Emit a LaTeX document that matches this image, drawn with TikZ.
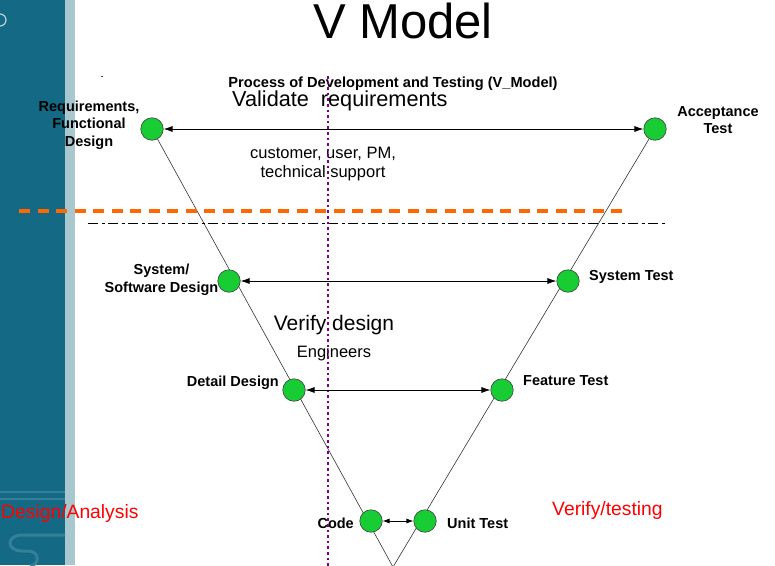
\documentclass[tikz,border=0pt]{standalone}
\usepackage{fontspec}
\setmainfont{Liberation Sans}
\usetikzlibrary{arrows.meta,backgrounds}

\definecolor{bandteal}{RGB}{20,106,132}
\definecolor{bandlight}{RGB}{168,199,207}
\definecolor{bandmark}{RGB}{52,128,152}
\definecolor{vgreen}{RGB}{24,204,52}
\definecolor{dashorange}{RGB}{255,104,0}
\definecolor{dotpurple}{RGB}{120,0,130}
\definecolor{notered}{RGB}{255,0,0}

\begin{document}
\begin{tikzpicture}[>={Latex[length=9pt,width=6pt]}]
  % Styles for the V diagram
  \tikzset{
    vnode/.style   = {circle, draw=black!75, fill=vgreen, line width=0.6pt, minimum size=22.5pt, inner sep=0pt},
    vlabel/.style  = {font=\bfseries\fontsize{14.5}{17.5}\selectfont, inner sep=0pt},
    vleg/.style    = {draw=black!80, line width=0.6pt},
    pairarrow/.style = {<->, line width=0.8pt},
    phase/.style   = {font=\fontsize{21}{24}\selectfont, inner sep=0pt},
    who/.style     = {font=\fontsize{16.5}{19}\selectfont, inner sep=0pt, align=center},
    sidenote/.style = {font=\fontsize{19.3}{22}\selectfont, text=notered, inner sep=0pt}
  }

  % Pixel units, y pointing down
  \begin{scope}[x=1pt,y=-1pt]
    \useasboundingbox (0,0) rectangle (775,565);

    % --- Titles ---
    \node[font=\fontsize{49}{52}\selectfont, anchor=base, inner sep=0pt] (title) at (403,38) {V Model};
    \node[font=\fontsize{9}{10}\selectfont, inner sep=0pt] (tick) at (102,78) {-};
    \node[font=\bfseries\fontsize{14.6}{17}\selectfont, anchor=base, inner sep=0pt] (sub) at (393,87)
      {Process of Development and Testing (V\_Model)};
    \node[phase, font=\fontsize{21.7}{24}\selectfont, anchor=base west] (validate) at (232,106)
      {Validate\hspace{0.55em}requirements};
    \node[who] (customers) at (323,164) {customer, user, PM,\\technical support};
    \node[phase] (verify) at (334,325) {Verify design};
    \node[who] (engineers) at (334,353) {Engineers};

    % --- Nodes of the V ---
    \node[vnode] (req)  at (152,129) {};
    \node[vnode] (acc)  at (655,129) {};
    \node[vnode] (sys)  at (229,281) {};
    \node[vnode] (syst) at (568,281) {};
    \node[vnode] (det)  at (294,390) {};
    \node[vnode] (feat) at (502,390) {};
    \node[vnode] (code) at (371,521) {};
    \node[vnode] (unit) at (425,521) {};
    \coordinate (apex) at (393,567);

    % --- Node labels ---
    \node[vlabel, align=center] (reqlabel)  at (89,125)  {Requirements,\\Functional\\Design};
    \node[vlabel, align=center] (acclabel)  at (718,120) {Acceptance\\Test};
    \node[vlabel, align=center] (syslabel)  at (161.5,280) {System/\\Software Design};
    \node[vlabel, anchor=west]  (systlabel) at (589,277) {System Test};
    \node[vlabel, anchor=east]  (detlabel)  at (279,383) {Detail Design};
    \node[vlabel, anchor=west]  (featlabel) at (523,381) {Feature Test};
    \node[vlabel, anchor=east]  (codelabel) at (354,523) {Code};
    \node[vlabel, anchor=west]  (unitlabel) at (447,523) {Unit Test};

    % --- Side notes ---
    \node[sidenote, anchor=west] (design) at (1,513) {Design/Analysis};
    \node[sidenote, anchor=west] (testing) at (552,510) {Verify/testing};

    % --- Band, legs of the V, dividing lines (behind the nodes) ---
    \begin{pgfonlayer}{background}
      \fill[bandteal] (0,0) rectangle (65,565);
      \fill[bandlight] (65,0) rectangle (75,565);
      \draw[bandmark, line width=1.5pt] (0,492) -- (65,492);
      \draw[bandmark, line width=1.5pt] (0,499) -- (65,499);
      \draw[bandmark, line width=3pt] (65,535) -- (22,535)
        .. controls (6,535) and (6,551) .. (22,551) -- (28,551)
        .. controls (40,551) and (40,565) .. (30,566);
      \draw[white!70!bandteal, line width=1.2pt] (0,26) arc[start angle=90, end angle=-90, radius=6];

      \draw[vleg] (req.center) -- (apex) -- (acc.center);
      \coordinate (orangeL) at (19,211);
      \coordinate (orangeR) at (627,211);
      \draw[dashorange, line width=4.2pt, dash pattern=on 11pt off 7.5pt] (orangeL) -- (orangeR);
      \coordinate (dashL) at (88,223);
      \coordinate (dashR) at (666,223);
      \draw[black, line width=0.8pt, dash pattern=on 10pt off 3.5pt on 3pt off 3.5pt] (dashL) -- (dashR);
    \end{pgfonlayer}

    % --- Purple divider ---
    \coordinate (divtop) at (328,76);
    \coordinate (divbot) at (328,566);
    \draw[dotpurple, line width=2.6pt, dash pattern=on 2.6pt off 3pt] (divtop) -- (divbot);

    % --- Pair arrows ---
    \draw[pairarrow] (req) -- (acc);
    \draw[pairarrow] (sys) -- (syst);
    \draw[pairarrow] (det) -- (feat);
    \draw[pairarrow, >={Latex[length=7pt,width=5pt]}] (code) -- (unit);
  \end{scope}
\end{tikzpicture}
\end{document}
